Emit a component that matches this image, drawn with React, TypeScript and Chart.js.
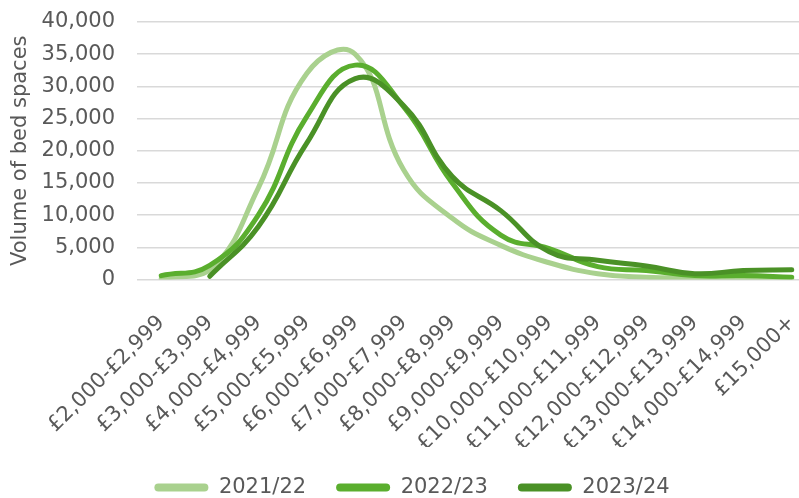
import React, { useEffect, useRef } from "react";
import { Chart, registerables } from "chart.js";

Chart.register(...registerables);

const categories = [
  "£2,000-£2,999",
  "£3,000-£3,999",
  "£4,000-£4,999",
  "£5,000-£5,999",
  "£6,000-£6,999",
  "£7,000-£7,999",
  "£8,000-£8,999",
  "£9,000-£9,999",
  "£10,000-£10,999",
  "£11,000-£11,999",
  "£12,000-£12,999",
  "£13,000-£13,999",
  "£14,000-£14,999",
  "£15,000+",
];

const seriesNames = ["2021/22", "2022/23", "2023/24"];
const values2122 = [150, 1400, 14200, 32000, 35000, 17000, 9500, 5300, 2600, 900, 350, 250, 200, 150];
const values2223 = [600, 2200, 10000, 25300, 33300, 26800, 15000, 6900, 4800, 2000, 1400, 620, 620, 360];
const values2324 = [null, 500, 8200, 21200, 31200, 27000, 16000, 10700, 4300, 3000, 2100, 900, 1400, 1500];

const seriesColors = ["#A9D18E", "#5AAE2E", "#4A9126"];

const yMin = 0;
const yMax = 40000;
const yStep = 5000;

const FONT = "'DejaVu Sans', Verdana, sans-serif";
const TEXT = "#595959";

export default function App() {
  const ref = useRef<HTMLCanvasElement | null>(null);

  useEffect(() => {
    document.documentElement.style.overflow = "hidden";
    document.body.style.overflow = "hidden";
    const canvas = ref.current;
    if (!canvas) return;
    const all = [values2122, values2223, values2324];
    const chart = new Chart(canvas, {
      type: "line",
      data: {
        labels: categories,
        datasets: all.map((vals, i) => ({
          label: seriesNames[i],
          data: vals,
          borderColor: seriesColors[i],
          backgroundColor: seriesColors[i],
          borderWidth: 5,
          borderCapStyle: "round",
          borderJoinStyle: "round",
          pointRadius: 0,
          pointHoverRadius: 0,
          tension: 0.45,
          fill: false,
          spanGaps: false,
          order: 3 - i,
        })),
      },
      options: {
        responsive: false,
        animation: false,
        events: [],
        layout: { padding: { top: 22, left: 8, right: 6, bottom: 0 } },
        scales: {
          x: {
            type: "category",
            offset: true,
            grid: { display: false, drawTicks: false },
            border: { display: false },
            afterFit: (s: any) => {
              s.paddingLeft = 0;
              s.paddingRight = 0;
              s.height = 167.5;
            },
            ticks: {
              color: TEXT,
              font: { family: FONT, size: 21 },
              maxRotation: 45,
              minRotation: 45,
              autoSkip: false,
              padding: 31,
            },
          },
          y: {
            min: yMin,
            max: yMax,
            grid: { color: "#D9D9D9", lineWidth: 1.5, drawTicks: false },
            border: { display: false },
            afterFit: (s: any) => {
              s.width = 129;
              s.paddingTop = 0;
              s.paddingBottom = 0;
            },
            ticks: {
              stepSize: yStep,
              color: TEXT,
              font: { family: FONT, size: 21 },
              padding: 22,
              callback: (v: any) => Number(v).toLocaleString("en-GB"),
            },
            title: {
              display: true,
              text: "Volume of bed spaces",
              color: TEXT,
              font: { family: FONT, size: 21 },
              padding: { top: 0, bottom: 9 },
            },
          },
        },
        plugins: {
          tooltip: { enabled: false },
          legend: {
            position: "bottom",
            labels: {
              color: TEXT,
              font: { family: FONT, size: 21 },
              boxWidth: 54,
              boxHeight: 8,
              padding: 30,
              useBorderRadius: true,
              borderRadius: 4,
              generateLabels: (c: any) =>
                (Chart.defaults.plugins.legend.labels.generateLabels as any)(c)
                  .map((l: any) => ({ ...l, lineWidth: 0 }))
                  .sort((a: any, b: any) => a.datasetIndex - b.datasetIndex),
            },
          },
        },
      },
    } as any);
    return () => chart.destroy();
  }, []);

  return (
    <div style={{ position: "absolute", left: 0, top: 0, width: 822, height: 508 }}>
      <canvas ref={ref} width={822} height={508} style={{ display: "block" }} />
    </div>
  );
}
